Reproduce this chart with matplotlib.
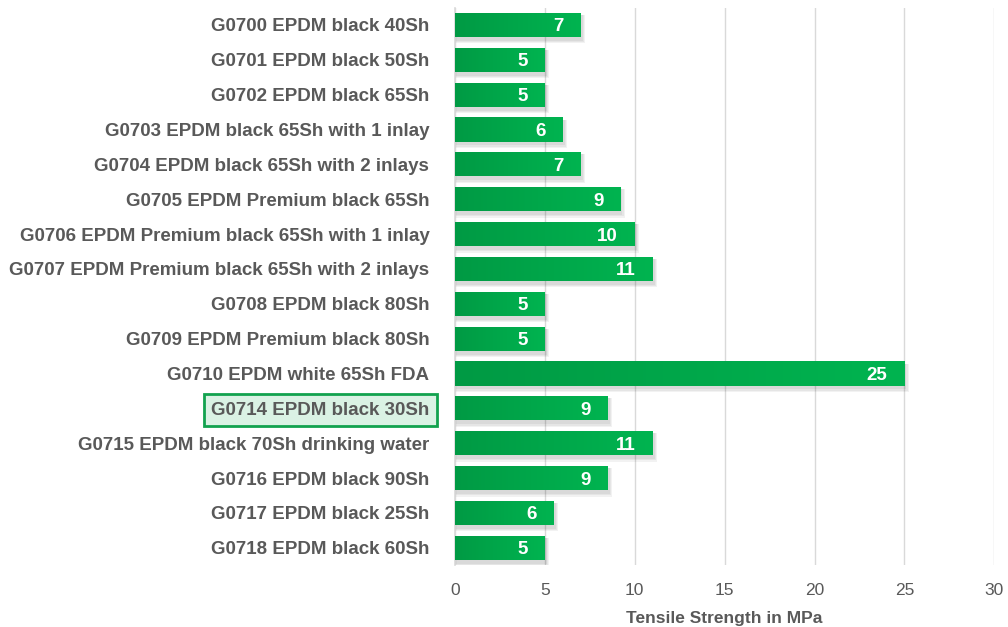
import numpy as np
import matplotlib.pyplot as plt
from matplotlib.colors import LinearSegmentedColormap

plt.rcParams['font.family'] = ['Liberation Sans', 'DejaVu Sans']

# Data
materials = [
    'G0700 EPDM black 40Sh',
    'G0701 EPDM black 50Sh',
    'G0702 EPDM black 65Sh',
    'G0703 EPDM black 65Sh with 1 inlay',
    'G0704 EPDM black 65Sh with 2 inlays',
    'G0705 EPDM Premium black 65Sh',
    'G0706 EPDM Premium black 65Sh with 1 inlay',
    'G0707 EPDM Premium black 65Sh with 2 inlays',
    'G0708 EPDM black 80Sh',
    'G0709 EPDM Premium black 80Sh',
    'G0710 EPDM white 65Sh FDA',
    'G0714 EPDM black 30Sh',
    'G0715 EPDM black 70Sh drinking water',
    'G0716 EPDM black 90Sh',
    'G0717 EPDM black 25Sh',
    'G0718 EPDM black 60Sh',
]
tensile = [7, 5, 5, 6, 7, 9.2, 10, 11, 5, 5, 25, 8.5, 11, 8.5, 5.5, 5]
highlight = 'G0714 EPDM black 30Sh'
x_ticks = [0, 5, 10, 15, 20, 25, 30]

TEXT = '#595959'
GRID = '#d9d9d9'
green_cmap = LinearSegmentedColormap.from_list('grn', ['#009a44', '#00b450'])

fig = plt.figure(figsize=(10.08, 6.27), dpi=100)
ax = fig.add_axes([0.4514, 0.0985, 0.535, 0.8895])

y = np.arange(len(materials))
bar_h = 0.69
bars = ax.barh(y, tensile, height=bar_h, color='none', zorder=3)

grad = np.linspace(0, 1, 256).reshape(1, -1)
for b, val in zip(bars, tensile):
    x0, y0 = b.get_x(), b.get_y()
    w, h = b.get_width(), b.get_height()
    # soft shadow
    for k, a in zip([0.5, 0.35, 0.2], [0.05, 0.05, 0.05]):
        ax.add_patch(plt.Rectangle((x0, y0 + 0.06), w + k * 0.5, h + k * 0.25,
                                   color='black', alpha=a, lw=0, zorder=2))
    im = ax.imshow(grad, cmap=green_cmap, aspect='auto', zorder=3,
                   extent=(x0, x0 + w, y0 + h, y0), interpolation='bilinear')
    im.set_clip_path(b)
    ax.text(x0 + w - 0.95, y0 + h / 2, str(int(val + 0.5)), ha='right',
            va='center_baseline', color='white', fontsize=13.5,
            fontweight='bold', zorder=5)

ax.set_xlim(0, 30)
ax.set_ylim(len(materials) - 0.5, -0.5)
ax.set_xticks(x_ticks)
ax.set_xticklabels([str(t) for t in x_ticks], color=TEXT, fontsize=12.5)
ax.set_yticks(y)
ax.set_yticklabels(materials, color=TEXT, fontsize=13.5, fontweight='bold')
ax.tick_params(axis='both', length=0)
ax.tick_params(axis='y', pad=18.5)
ax.tick_params(axis='x', pad=13)
ax.grid(axis='x', color=GRID, lw=1.0, zorder=0)
for s in ['top', 'right', 'bottom']:
    ax.spines[s].set_visible(False)
ax.spines['left'].set_color(GRID)
ax.spines['left'].set_linewidth(1.2)
ax.set_xlabel('Tensile Strength in MPa', color=TEXT, fontsize=12.5,
              fontweight='bold', labelpad=9)

for lbl in ax.get_yticklabels():
    if lbl.get_text() == highlight:
        lbl.set_bbox(dict(boxstyle='square,pad=0.4', facecolor='#daf2e4',
                          edgecolor='#12a24e', lw=2))

fig.savefig('out.png', dpi=100)
